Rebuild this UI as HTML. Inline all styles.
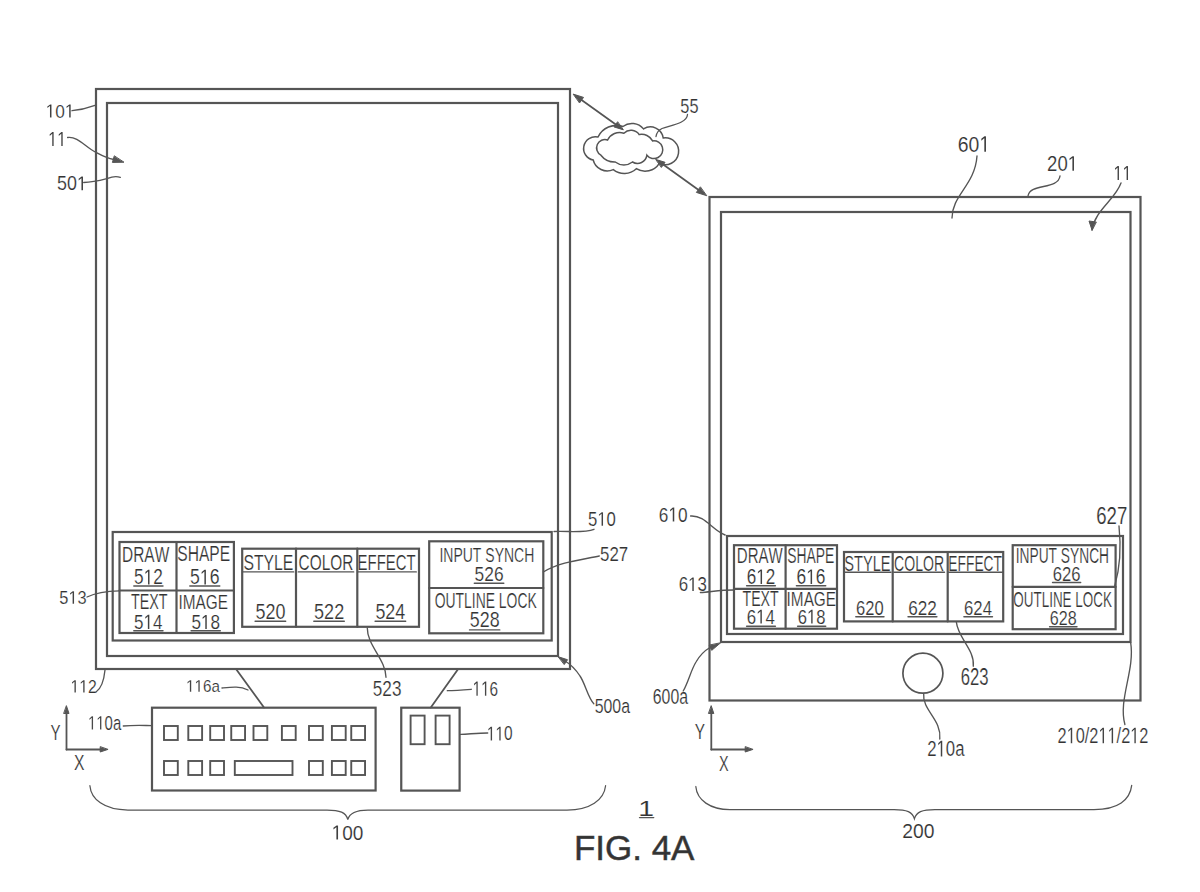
<!DOCTYPE html>
<html><head><meta charset="utf-8"><style>
html,body{margin:0;padding:0;background:#fff;width:1200px;height:892px;overflow:hidden}
svg{display:block}
text{font-family:"Liberation Sans",sans-serif;font-size:100px;fill:#333;font-kerning:none;font-feature-settings:"kern" 0}
.g1{fill:#333}
</style></head><body>
<svg width="1200" height="892" viewBox="0 0 1200 892">
<g fill="none" stroke="#555" stroke-linecap="round">
<text transform="matrix(0.15456 0 0 0.22529 122.03 561.50)" stroke-width="0.970" stroke="#fff">DRAW</text>
<text transform="matrix(0.15598 0 0 0.21892 177.29 561.29)" stroke-width="0.962" stroke="#fff">SHAPE</text>
<text transform="matrix(0.17236 0 0 0.21469 134.11 584.49)" stroke-width="0.870" stroke="#fff">5&#x2007;2</text>
<path transform="matrix(0.17236 0 0 0.21469 134.11 584.49)" d="M80.76 0.00 L80.76 -60.40 L65.23 -49.32 L65.23 -57.62 L81.49 -68.80 L89.60 -68.80 L89.60 0.00Z" class="g1" stroke-width="0.870" stroke="#fff"/>
<text transform="matrix(0.17671 0 0 0.21469 190.09 584.49)" stroke-width="0.849" stroke="#fff">5&#x2007;6</text>
<path transform="matrix(0.17671 0 0 0.21469 190.09 584.49)" d="M80.76 0.00 L80.76 -60.40 L65.23 -49.32 L65.23 -57.62 L81.49 -68.80 L89.60 -68.80 L89.60 0.00Z" class="g1" stroke-width="0.849" stroke="#fff"/>
<text transform="matrix(0.14341 0 0 0.21367 130.98 608.70)" stroke-width="1.046" stroke="#fff">TEXT</text>
<text transform="matrix(0.15353 0 0 0.20762 178.48 608.50)" stroke-width="0.977" stroke="#fff">IMAGE</text>
<text transform="matrix(0.17009 0 0 0.20638 134.12 629.00)" stroke-width="0.882" stroke="#fff">5&#x2007;4</text>
<path transform="matrix(0.17009 0 0 0.20638 134.12 629.00)" d="M80.76 0.00 L80.76 -60.40 L65.23 -49.32 L65.23 -57.62 L81.49 -68.80 L89.60 -68.80 L89.60 0.00Z" class="g1" stroke-width="0.882" stroke="#fff"/>
<text transform="matrix(0.17161 0 0 0.20339 191.41 629.00)" stroke-width="0.874" stroke="#fff">5&#x2007;8</text>
<path transform="matrix(0.17161 0 0 0.20339 191.41 629.00)" d="M80.76 0.00 L80.76 -60.40 L65.23 -49.32 L65.23 -57.62 L81.49 -68.80 L89.60 -68.80 L89.60 0.00Z" class="g1" stroke-width="0.874" stroke="#fff"/>
<text transform="matrix(0.15781 0 0 0.21469 243.38 569.79)" stroke-width="0.950" stroke="#fff">STYLE</text>
<text transform="matrix(0.15438 0 0 0.21469 298.52 569.79)" stroke-width="0.972" stroke="#fff">COLOR</text>
<text transform="matrix(0.14933 0 0 0.21469 357.58 569.79)" stroke-width="1.005" stroke="#fff">EFFECT</text>
<text transform="matrix(0.17995 0 0 0.22599 255.38 619.08)" stroke-width="0.834" stroke="#fff">520</text>
<text transform="matrix(0.18059 0 0 0.22599 314.08 619.08)" stroke-width="0.831" stroke="#fff">522</text>
<text transform="matrix(0.17885 0 0 0.22599 375.38 619.08)" stroke-width="0.839" stroke="#fff">524</text>
<text transform="matrix(0.14006 0 0 0.20339 439.41 561.70)" stroke-width="1.071" stroke="#fff">INPUT SYNCH</text>
<text transform="matrix(0.17356 0 0 0.20621 474.61 581.10)" stroke-width="0.864" stroke="#fff">526</text>
<text transform="matrix(0.13936 0 0 0.21469 434.64 607.79)" stroke-width="1.076" stroke="#fff">OUTLINE LOCK</text>
<text transform="matrix(0.17855 0 0 0.21892 469.79 627.29)" stroke-width="0.840" stroke="#fff">528</text>
<text transform="matrix(0.17257 0 0 0.19138 45.64 117.56)" stroke-width="0.869" stroke="#fff">&#x2007;0&#x2007;</text>
<path transform="matrix(0.17257 0 0 0.19138 45.64 117.56)" d="M25.15 0.00 L25.15 -60.40 L9.62 -49.32 L9.62 -57.62 L25.88 -68.80 L33.98 -68.80 L33.98 0.00Z" class="g1" stroke-width="0.869" stroke="#fff"/>
<path transform="matrix(0.17257 0 0 0.19138 45.64 117.56)" d="M136.38 0.00 L136.38 -60.40 L120.85 -49.32 L120.85 -57.62 L137.11 -68.80 L145.21 -68.80 L145.21 0.00Z" class="g1" stroke-width="0.869" stroke="#fff"/>
<text transform="matrix(0.16254 0 0 0.20495 48.14 146.10)" stroke-width="0.923" stroke="#fff">&#x2007;&#x2007;</text>
<path transform="matrix(0.16254 0 0 0.20495 48.14 146.10)" d="M25.15 0.00 L25.15 -60.40 L9.62 -49.32 L9.62 -57.62 L25.88 -68.80 L33.98 -68.80 L33.98 0.00Z" class="g1" stroke-width="0.923" stroke="#fff"/>
<path transform="matrix(0.16254 0 0 0.20495 48.14 146.10)" d="M80.76 0.00 L80.76 -60.40 L65.23 -49.32 L65.23 -57.62 L81.49 -68.80 L89.60 -68.80 L89.60 0.00Z" class="g1" stroke-width="0.923" stroke="#fff"/>
<text transform="matrix(0.17881 0 0 0.20056 57.03 190.30)" stroke-width="0.839" stroke="#fff">50&#x2007;</text>
<path transform="matrix(0.17881 0 0 0.20056 57.03 190.30)" d="M136.38 0.00 L136.38 -60.40 L120.85 -49.32 L120.85 -57.62 L137.11 -68.80 L145.21 -68.80 L145.21 0.00Z" class="g1" stroke-width="0.839" stroke="#fff"/>
<text transform="matrix(0.16409 0 0 0.18361 59.34 603.82)" stroke-width="0.914" stroke="#fff">5&#x2007;3</text>
<path transform="matrix(0.16409 0 0 0.18361 59.34 603.82)" d="M80.76 0.00 L80.76 -60.40 L65.23 -49.32 L65.23 -57.62 L81.49 -68.80 L89.60 -68.80 L89.60 0.00Z" class="g1" stroke-width="0.914" stroke="#fff"/>
<text transform="matrix(0.15769 0 0 0.17902 70.48 692.50)" stroke-width="0.951" stroke="#fff">&#x2007;&#x2007;2</text>
<path transform="matrix(0.15769 0 0 0.17902 70.48 692.50)" d="M25.15 0.00 L25.15 -60.40 L9.62 -49.32 L9.62 -57.62 L25.88 -68.80 L33.98 -68.80 L33.98 0.00Z" class="g1" stroke-width="0.951" stroke="#fff"/>
<path transform="matrix(0.15769 0 0 0.17902 70.48 692.50)" d="M80.76 0.00 L80.76 -60.40 L65.23 -49.32 L65.23 -57.62 L81.49 -68.80 L89.60 -68.80 L89.60 0.00Z" class="g1" stroke-width="0.951" stroke="#fff"/>
<text transform="matrix(0.15270 0 0 0.16949 186.03 691.83)" stroke-width="0.982" stroke="#fff">&#x2007;&#x2007;6a</text>
<path transform="matrix(0.15270 0 0 0.16949 186.03 691.83)" d="M25.15 0.00 L25.15 -60.40 L9.62 -49.32 L9.62 -57.62 L25.88 -68.80 L33.98 -68.80 L33.98 0.00Z" class="g1" stroke-width="0.982" stroke="#fff"/>
<path transform="matrix(0.15270 0 0 0.16949 186.03 691.83)" d="M80.76 0.00 L80.76 -60.40 L65.23 -49.32 L65.23 -57.62 L81.49 -68.80 L89.60 -68.80 L89.60 0.00Z" class="g1" stroke-width="0.982" stroke="#fff"/>
<text transform="matrix(0.16736 0 0 0.19774 588.03 525.81)" stroke-width="0.896" stroke="#fff">5&#x2007;0</text>
<path transform="matrix(0.16736 0 0 0.19774 588.03 525.81)" d="M80.76 0.00 L80.76 -60.40 L65.23 -49.32 L65.23 -57.62 L81.49 -68.80 L89.60 -68.80 L89.60 0.00Z" class="g1" stroke-width="0.896" stroke="#fff"/>
<text transform="matrix(0.16855 0 0 0.19915 600.03 560.61)" stroke-width="0.890" stroke="#fff">527</text>
<text transform="matrix(0.17167 0 0 0.21469 372.81 695.79)" stroke-width="0.874" stroke="#fff">523</text>
<text transform="matrix(0.15376 0 0 0.20762 472.52 695.80)" stroke-width="0.976" stroke="#fff">&#x2007;&#x2007;6</text>
<path transform="matrix(0.15376 0 0 0.20762 472.52 695.80)" d="M25.15 0.00 L25.15 -60.40 L9.62 -49.32 L9.62 -57.62 L25.88 -68.80 L33.98 -68.80 L33.98 0.00Z" class="g1" stroke-width="0.976" stroke="#fff"/>
<path transform="matrix(0.15376 0 0 0.20762 472.52 695.80)" d="M80.76 0.00 L80.76 -60.40 L65.23 -49.32 L65.23 -57.62 L81.49 -68.80 L89.60 -68.80 L89.60 0.00Z" class="g1" stroke-width="0.976" stroke="#fff"/>
<text transform="matrix(0.15884 0 0 0.20621 594.66 713.10)" stroke-width="0.944" stroke="#fff">500a</text>
<text transform="matrix(0.14964 0 0 0.19491 87.96 729.61)" stroke-width="1.002" stroke="#fff">&#x2007;&#x2007;0a</text>
<path transform="matrix(0.14964 0 0 0.19491 87.96 729.61)" d="M25.15 0.00 L25.15 -60.40 L9.62 -49.32 L9.62 -57.62 L25.88 -68.80 L33.98 -68.80 L33.98 0.00Z" class="g1" stroke-width="1.002" stroke="#fff"/>
<path transform="matrix(0.14964 0 0 0.19491 87.96 729.61)" d="M80.76 0.00 L80.76 -60.40 L65.23 -49.32 L65.23 -57.62 L81.49 -68.80 L89.60 -68.80 L89.60 0.00Z" class="g1" stroke-width="1.002" stroke="#fff"/>
<text transform="matrix(0.15458 0 0 0.19915 486.81 740.41)" stroke-width="0.970" stroke="#fff">&#x2007;&#x2007;0</text>
<path transform="matrix(0.15458 0 0 0.19915 486.81 740.41)" d="M25.15 0.00 L25.15 -60.40 L9.62 -49.32 L9.62 -57.62 L25.88 -68.80 L33.98 -68.80 L33.98 0.00Z" class="g1" stroke-width="0.970" stroke="#fff"/>
<path transform="matrix(0.15458 0 0 0.19915 486.81 740.41)" d="M80.76 0.00 L80.76 -60.40 L65.23 -49.32 L65.23 -57.62 L81.49 -68.80 L89.60 -68.80 L89.60 0.00Z" class="g1" stroke-width="0.970" stroke="#fff"/>
<text transform="matrix(0.15087 0 0 0.21803 50.47 739.60)" stroke-width="0.994" stroke="#fff">Y</text>
<text transform="matrix(0.15717 0 0 0.22093 74.05 770.40)" stroke-width="0.954" stroke="#fff">X</text>
<text transform="matrix(0.19045 0 0 0.20268 331.57 839.55)" stroke-width="0.788" stroke="#fff">&#x2007;00</text>
<path transform="matrix(0.19045 0 0 0.20268 331.57 839.55)" d="M25.15 0.00 L25.15 -60.40 L9.62 -49.32 L9.62 -57.62 L25.88 -68.80 L33.98 -68.80 L33.98 0.00Z" class="g1" stroke-width="0.788" stroke="#fff"/>
<text transform="matrix(0.16306 0 0 0.20351 680.35 113.00)" stroke-width="0.920" stroke="#fff">55</text>
<text transform="matrix(0.15052 0 0 0.22457 736.77 563.25)" stroke-width="0.997" stroke="#fff">DRAW</text>
<text transform="matrix(0.13871 0 0 0.21822 787.37 563.04)" stroke-width="1.081" stroke="#fff">SHAPE</text>
<text transform="matrix(0.17099 0 0 0.21186 746.73 583.99)" stroke-width="0.877" stroke="#fff">6&#x2007;2</text>
<path transform="matrix(0.17099 0 0 0.21186 746.73 583.99)" d="M80.76 0.00 L80.76 -60.40 L65.23 -49.32 L65.23 -57.62 L81.49 -68.80 L89.60 -68.80 L89.60 0.00Z" class="g1" stroke-width="0.877" stroke="#fff"/>
<text transform="matrix(0.17379 0 0 0.21186 796.52 583.99)" stroke-width="0.863" stroke="#fff">6&#x2007;6</text>
<path transform="matrix(0.17379 0 0 0.21186 796.52 583.99)" d="M80.76 0.00 L80.76 -60.40 L65.23 -49.32 L65.23 -57.62 L81.49 -68.80 L89.60 -68.80 L89.60 0.00Z" class="g1" stroke-width="0.863" stroke="#fff"/>
<text transform="matrix(0.14182 0 0 0.21367 742.48 606.00)" stroke-width="1.058" stroke="#fff">TEXT</text>
<text transform="matrix(0.15353 0 0 0.20762 786.58 605.80)" stroke-width="0.977" stroke="#fff">IMAGE</text>
<text transform="matrix(0.16873 0 0 0.20056 746.74 623.60)" stroke-width="0.889" stroke="#fff">6&#x2007;4</text>
<path transform="matrix(0.16873 0 0 0.20056 746.74 623.60)" d="M80.76 0.00 L80.76 -60.40 L65.23 -49.32 L65.23 -57.62 L81.49 -68.80 L89.60 -68.80 L89.60 0.00Z" class="g1" stroke-width="0.889" stroke="#fff"/>
<text transform="matrix(0.16611 0 0 0.20056 797.76 623.60)" stroke-width="0.903" stroke="#fff">6&#x2007;8</text>
<path transform="matrix(0.16611 0 0 0.20056 797.76 623.60)" d="M80.76 0.00 L80.76 -60.40 L65.23 -49.32 L65.23 -57.62 L81.49 -68.80 L89.60 -68.80 L89.60 0.00Z" class="g1" stroke-width="0.903" stroke="#fff"/>
<text transform="matrix(0.14612 0 0 0.22457 844.34 570.68)" stroke-width="1.027" stroke="#fff">STYLE</text>
<text transform="matrix(0.14079 0 0 0.22457 894.09 570.68)" stroke-width="1.065" stroke="#fff">COLOR</text>
<text transform="matrix(0.13796 0 0 0.22457 948.37 570.68)" stroke-width="1.087" stroke="#fff">EFFECT</text>
<text transform="matrix(0.16597 0 0 0.20056 855.96 614.80)" stroke-width="0.904" stroke="#fff">620</text>
<text transform="matrix(0.17162 0 0 0.20056 908.13 614.80)" stroke-width="0.874" stroke="#fff">622</text>
<text transform="matrix(0.16747 0 0 0.20056 964.05 614.80)" stroke-width="0.896" stroke="#fff">624</text>
<text transform="matrix(0.13779 0 0 0.22034 1015.73 563.38)" stroke-width="1.089" stroke="#fff">INPUT SYNCH</text>
<text transform="matrix(0.16648 0 0 0.20480 1052.65 580.80)" stroke-width="0.901" stroke="#fff">626</text>
<text transform="matrix(0.13441 0 0 0.21892 1013.36 607.09)" stroke-width="1.116" stroke="#fff">OUTLINE LOCK</text>
<text transform="matrix(0.16135 0 0 0.20621 1049.78 625.20)" stroke-width="0.930" stroke="#fff">628</text>
<text transform="matrix(0.19410 0 0 0.22599 957.81 151.78)" stroke-width="0.773" stroke="#fff">60&#x2007;</text>
<path transform="matrix(0.19410 0 0 0.22599 957.81 151.78)" d="M136.38 0.00 L136.38 -60.40 L120.85 -49.32 L120.85 -57.62 L137.11 -68.80 L145.21 -68.80 L145.21 0.00Z" class="g1" stroke-width="0.773" stroke="#fff"/>
<text transform="matrix(0.18547 0 0 0.21186 1047.07 170.79)" stroke-width="0.809" stroke="#fff">20&#x2007;</text>
<path transform="matrix(0.18547 0 0 0.21186 1047.07 170.79)" d="M136.38 0.00 L136.38 -60.40 L120.85 -49.32 L120.85 -57.62 L137.11 -68.80 L145.21 -68.80 L145.21 0.00Z" class="g1" stroke-width="0.809" stroke="#fff"/>
<text transform="matrix(0.16254 0 0 0.20349 1113.44 180.00)" stroke-width="0.923" stroke="#fff">&#x2007;&#x2007;</text>
<path transform="matrix(0.16254 0 0 0.20349 1113.44 180.00)" d="M25.15 0.00 L25.15 -60.40 L9.62 -49.32 L9.62 -57.62 L25.88 -68.80 L33.98 -68.80 L33.98 0.00Z" class="g1" stroke-width="0.923" stroke="#fff"/>
<path transform="matrix(0.16254 0 0 0.20349 1113.44 180.00)" d="M80.76 0.00 L80.76 -60.40 L65.23 -49.32 L65.23 -57.62 L81.49 -68.80 L89.60 -68.80 L89.60 0.00Z" class="g1" stroke-width="0.923" stroke="#fff"/>
<text transform="matrix(0.17230 0 0 0.20198 658.83 521.50)" stroke-width="0.871" stroke="#fff">6&#x2007;0</text>
<path transform="matrix(0.17230 0 0 0.20198 658.83 521.50)" d="M80.76 0.00 L80.76 -60.40 L65.23 -49.32 L65.23 -57.62 L81.49 -68.80 L89.60 -68.80 L89.60 0.00Z" class="g1" stroke-width="0.871" stroke="#fff"/>
<text transform="matrix(0.16903 0 0 0.19915 678.64 591.11)" stroke-width="0.887" stroke="#fff">6&#x2007;3</text>
<path transform="matrix(0.16903 0 0 0.19915 678.64 591.11)" d="M80.76 0.00 L80.76 -60.40 L65.23 -49.32 L65.23 -57.62 L81.49 -68.80 L89.60 -68.80 L89.60 0.00Z" class="g1" stroke-width="0.887" stroke="#fff"/>
<text transform="matrix(0.15871 0 0 0.22599 652.79 704.48)" stroke-width="0.945" stroke="#fff">600a</text>
<text transform="matrix(0.18630 0 0 0.23446 1096.25 523.67)" stroke-width="0.805" stroke="#fff">627</text>
<text transform="matrix(0.16712 0 0 0.23446 960.75 684.87)" stroke-width="0.898" stroke="#fff">623</text>
<text transform="matrix(0.16741 0 0 0.22740 927.26 756.38)" stroke-width="0.896" stroke="#fff">2&#x2007;0a</text>
<path transform="matrix(0.16741 0 0 0.22740 927.26 756.38)" d="M80.76 0.00 L80.76 -60.40 L65.23 -49.32 L65.23 -57.62 L81.49 -68.80 L89.60 -68.80 L89.60 0.00Z" class="g1" stroke-width="0.896" stroke="#fff"/>
<text transform="matrix(0.16336 0 0 0.22604 1057.58 743.18)" stroke-width="0.918" stroke="#fff">2&#x2007;0/2&#x2007;&#x2007;/2&#x2007;2</text>
<path transform="matrix(0.16336 0 0 0.22604 1057.58 743.18)" d="M80.76 0.00 L80.76 -60.40 L65.23 -49.32 L65.23 -57.62 L81.49 -68.80 L89.60 -68.80 L89.60 0.00Z" class="g1" stroke-width="0.918" stroke="#fff"/>
<path transform="matrix(0.16336 0 0 0.22604 1057.58 743.18)" d="M275.39 0.00 L275.39 -60.40 L259.86 -49.32 L259.86 -57.62 L276.12 -68.80 L284.23 -68.80 L284.23 0.00Z" class="g1" stroke-width="0.918" stroke="#fff"/>
<path transform="matrix(0.16336 0 0 0.22604 1057.58 743.18)" d="M331.01 0.00 L331.01 -60.40 L315.48 -49.32 L315.48 -57.62 L331.74 -68.80 L339.84 -68.80 L339.84 0.00Z" class="g1" stroke-width="0.918" stroke="#fff"/>
<path transform="matrix(0.16336 0 0 0.22604 1057.58 743.18)" d="M470.02 0.00 L470.02 -60.40 L454.49 -49.32 L454.49 -57.62 L470.75 -68.80 L478.86 -68.80 L478.86 0.00Z" class="g1" stroke-width="0.918" stroke="#fff"/>
<text transform="matrix(0.15408 0 0 0.21948 694.76 739.40)" stroke-width="0.974" stroke="#fff">Y</text>
<text transform="matrix(0.14434 0 0 0.22675 719.08 770.70)" stroke-width="1.039" stroke="#fff">X</text>
<text transform="matrix(0.19315 0 0 0.19350 902.33 838.11)" stroke-width="0.777" stroke="#fff">200</text>
<text transform="matrix(0.28412 0 0 0.22166 638.34 815.75)" stroke-width="0.528" stroke="#fff">1</text>
<text transform="matrix(0.34986 0 0 0.35169 573.93 859.96)" stroke-width="1.43" stroke="#444">FIG. 4A</text>
<rect x="96" y="89" width="474" height="580" stroke-width="2.2"/>
<rect x="107" y="103" width="451" height="553" stroke-width="2.2"/>
<rect x="112.7" y="532" width="439.0" height="108.5" stroke-width="2.2"/>
<rect x="119.5" y="542" width="114.4" height="91" stroke-width="2.2"/>
<line x1="176.5" y1="542" x2="176.5" y2="633" stroke-width="2.2"/>
<line x1="119.5" y1="590.5" x2="233.9" y2="590.5" stroke-width="2.2"/>
<rect x="242.2" y="548.7" width="176.8" height="78.1" stroke-width="2.2"/>
<line x1="296" y1="548.7" x2="296" y2="626.8" stroke-width="2.2"/>
<line x1="357.3" y1="548.7" x2="357.3" y2="626.8" stroke-width="2.2"/>
<rect x="429.2" y="541.3" width="114.1" height="92.0" stroke-width="2.2"/>
<line x1="429.2" y1="588" x2="543.3" y2="588" stroke-width="2.2"/>
<line x1="133.8" y1="586" x2="163" y2="586" stroke-width="1.4"/>
<line x1="189.8" y1="586" x2="219.8" y2="586" stroke-width="1.4"/>
<line x1="133.8" y1="630.8" x2="163" y2="630.8" stroke-width="1.4"/>
<line x1="191.1" y1="630.8" x2="220.3" y2="630.8" stroke-width="1.4"/>
<line x1="243.1" y1="571.9" x2="293.7" y2="571.9" stroke-width="1.4"/>
<line x1="298.3" y1="571.9" x2="353.7" y2="571.9" stroke-width="1.4"/>
<line x1="357.8" y1="571.9" x2="416.3" y2="571.9" stroke-width="1.4"/>
<line x1="255.10000000000002" y1="621.2" x2="285.7" y2="621.2" stroke-width="1.4"/>
<line x1="313.8" y1="621.2" x2="344.3" y2="621.2" stroke-width="1.4"/>
<line x1="375.1" y1="621.2" x2="405.7" y2="621.2" stroke-width="1.4"/>
<line x1="474.3" y1="583.2" x2="503.8" y2="583.2" stroke-width="1.4"/>
<line x1="469.5" y1="629.9" x2="499.8" y2="629.9" stroke-width="1.4"/>
<path d="M72 110.7 C80 110 88 108 95 105.4" stroke-width="1.35" fill="none"/>
<path d="M67.6 137.5 C78 136 86 148 96 152.3 C101 155 106 157.9 114 159.5" stroke-width="1.35" fill="none"/>
<path d="M123.60 162.20 L112.42 162.43 L114.18 156.17 Z" stroke-width="1.0" fill="#555"/>
<path d="M83.7 182.5 C92 182.5 100 180.5 106.8 178.7 C110 177.5 114 175.5 120.3 177.3" stroke-width="1.35" fill="none"/>
<path d="M87 597 C95 593 105 591 119.5 590.8" stroke-width="1.35" fill="none"/>
<path d="M96 692 C102 688 104 680 105 670" stroke-width="1.35" fill="none"/>
<path d="M222 688 C232 687 240 686 248 690" stroke-width="1.35" fill="none"/>
<line x1="236" y1="669" x2="264" y2="707.5" stroke-width="1.8"/>
<path d="M594 529.3 C585 533 570 531 554 531.5" stroke-width="1.35" fill="none"/>
<path d="M599.3 556 C580 560 560 562 543.3 572" stroke-width="1.35" fill="none"/>
<path d="M386 677.3 C386 660 367 645 367.3 628" stroke-width="1.35" fill="none"/>
<path d="M471.3 689.3 C462 690 455 690.5 447.3 690.7" stroke-width="1.35" fill="none"/>
<line x1="458" y1="669.3" x2="430.8" y2="707.5" stroke-width="1.8"/>
<path d="M593.8 703.7 C588 698 585 683 580 676 C576 670 572 665 565 661" stroke-width="1.35" fill="none"/>
<path d="M558.40 656.80 L567.55 659.73 L564.45 664.27 Z" stroke-width="1.0" fill="#555"/>
<path d="M123.3 726 C135 725 145 725.6 151.9 725.6" stroke-width="1.35" fill="none"/>
<path d="M460.6 734.4 C470 734 478 733 487.7 733" stroke-width="1.35" fill="none"/>
<rect x="152" y="707.7" width="223.6" height="82.8" stroke-width="2.2"/>
<rect x="164" y="726" width="13.8" height="14" stroke-width="1.9"/>
<rect x="188.3" y="726" width="13.8" height="14" stroke-width="1.9"/>
<rect x="210.2" y="726" width="13.8" height="14" stroke-width="1.9"/>
<rect x="231.25" y="726" width="13.8" height="14" stroke-width="1.9"/>
<rect x="253.5" y="726" width="13.8" height="14" stroke-width="1.9"/>
<rect x="281.9" y="726" width="13.8" height="14" stroke-width="1.9"/>
<rect x="309" y="726" width="13.8" height="14" stroke-width="1.9"/>
<rect x="331.9" y="726" width="13.8" height="14" stroke-width="1.9"/>
<rect x="351.25" y="726" width="13.8" height="14" stroke-width="1.9"/>
<rect x="164" y="761" width="13.8" height="14" stroke-width="1.9"/>
<rect x="188.3" y="761" width="13.8" height="14" stroke-width="1.9"/>
<rect x="210.2" y="761" width="13.8" height="14" stroke-width="1.9"/>
<rect x="309" y="761" width="13.8" height="14" stroke-width="1.9"/>
<rect x="331.9" y="761" width="13.8" height="14" stroke-width="1.9"/>
<rect x="351.25" y="761" width="13.8" height="14" stroke-width="1.9"/>
<rect x="234.8" y="761" width="57.7" height="14" stroke-width="1.9"/>
<rect x="401.25" y="707.7" width="58.35" height="82.9" stroke-width="2.2"/>
<rect x="410.6" y="715.6" width="14.0" height="28.6" stroke-width="1.9"/>
<rect x="435.6" y="715.6" width="14.0" height="28.6" stroke-width="1.9"/>
<line x1="66.5" y1="712" x2="66.5" y2="749.5" stroke-width="1.8"/>
<line x1="66.5" y1="749.5" x2="102" y2="749.5" stroke-width="1.8"/>
<path d="M66.50 706.00 L69.00 713.50 L64.00 713.50 Z" stroke-width="1.0" fill="#555"/>
<path d="M107.70 749.50 L100.20 752.00 L100.20 747.00 Z" stroke-width="1.0" fill="#555"/>
<path d="M89.9 785.7 C91 799 104 810 128 810 L327 810 C340 810 346 812.5 347.8 819.5 C349.6 812.5 356 810 368 810 L567 810 C590 810 604 800 605.6 785.7" stroke-width="1.25"/>
<path d="M593.2 160 A11.75 11.75 0 1 1 598 137 A20.35 20.35 0 0 1 622.9 126.5 A14.83 14.83 0 0 1 643.5 128.9 A12.89 12.89 0 0 1 663.2 138 A13.45 13.45 0 1 1 659.3 163.4 A16.71 16.71 0 0 1 636.3 168.7 A17.42 17.42 0 0 1 613.3 169.6 A14.46 14.46 0 0 1 593.2 160 Z" stroke-width="1.5" fill="none"/>
<path d="M600.9 155.2 A8.34 8.34 0 0 1 607.6 140 A13.32 13.32 0 0 1 623.9 133.2 A10.03 10.03 0 0 1 639.2 134.6 A12.41 12.41 0 0 1 652.6 140.9 A8.89 8.89 0 1 1 646.9 155.2 A9.50 9.50 0 0 1 632.5 162 A14.22 14.22 0 0 1 615.2 162 A17.43 17.43 0 0 1 600.9 155.2 Z" stroke-width="1.5" fill="none"/>
<path d="M687.5 114.5 C687 123 672 125 662 128.5 C658 130.5 656.5 133 656 136.5" stroke-width="1.3" fill="none"/>
<line x1="576" y1="96" x2="620" y2="127.5" stroke-width="1.7"/>
<line x1="659" y1="161.5" x2="703.5" y2="193.5" stroke-width="1.7"/>
<path d="M573.50 94.20 L583.52 97.39 L579.73 102.67 Z" stroke-width="1.0" fill="#555"/>
<path d="M623.00 129.70 L613.94 126.89 L617.43 122.02 Z" stroke-width="1.0" fill="#555"/>
<path d="M656.00 159.50 L665.06 162.30 L661.57 167.18 Z" stroke-width="1.0" fill="#555"/>
<path d="M706.40 195.60 L696.38 192.42 L700.16 187.13 Z" stroke-width="1.0" fill="#555"/>
<rect x="709.5" y="197" width="431.0" height="503.5" stroke-width="2.2"/>
<rect x="721" y="212" width="409.5" height="430" stroke-width="2.2"/>
<rect x="727" y="536" width="396" height="98" stroke-width="2.2"/>
<rect x="734" y="545.2" width="103" height="83.5" stroke-width="2.2"/>
<line x1="785.6" y1="545.2" x2="785.6" y2="628.7" stroke-width="2.2"/>
<line x1="734" y1="588.9" x2="837" y2="588.9" stroke-width="2.2"/>
<rect x="844" y="552" width="159.2" height="69.4" stroke-width="2.2"/>
<line x1="892.7" y1="552" x2="892.7" y2="621.4" stroke-width="2.2"/>
<line x1="947.7" y1="552" x2="947.7" y2="621.4" stroke-width="2.2"/>
<rect x="1012.7" y="545.2" width="102.9" height="84.0" stroke-width="2.2"/>
<line x1="1012.7" y1="586.9" x2="1115.6" y2="586.9" stroke-width="2.2"/>
<circle cx="922.9" cy="673.2" r="20" stroke-width="1.7"/>
<line x1="746.6" y1="585.8" x2="775.4" y2="585.8" stroke-width="1.4"/>
<line x1="796.4" y1="585.8" x2="825.75" y2="585.8" stroke-width="1.4"/>
<line x1="746.6" y1="626.2" x2="775.4" y2="626.2" stroke-width="1.4"/>
<line x1="797.6" y1="626.2" x2="825.75" y2="626.2" stroke-width="1.4"/>
<line x1="844" y1="572.3" x2="891" y2="572.3" stroke-width="1.4"/>
<line x1="893.8" y1="572.3" x2="944.5" y2="572.3" stroke-width="1.4"/>
<line x1="948.5" y1="572.3" x2="1002.7" y2="572.3" stroke-width="1.4"/>
<line x1="855.8" y1="616.7" x2="884" y2="616.7" stroke-width="1.4"/>
<line x1="908" y1="616.7" x2="936.9" y2="616.7" stroke-width="1.4"/>
<line x1="963.9" y1="616.7" x2="992.5" y2="616.7" stroke-width="1.4"/>
<line x1="1052.5" y1="582.5" x2="1080.7" y2="582.5" stroke-width="1.4"/>
<line x1="1049.6" y1="626.8" x2="1077" y2="626.8" stroke-width="1.4"/>
<line x1="639.5" y1="817.6" x2="653.75" y2="817.6" stroke-width="1.4"/>
<path d="M977 156 C975 185 952 195 952 218" stroke-width="1.35" fill="none"/>
<path d="M1060 176 C1058 190 1030 183 1028 196" stroke-width="1.35" fill="none"/>
<path d="M1121 183 C1115 200 1095 210 1092 230" stroke-width="1.35" fill="none"/>
<path d="M1092 230 L1089 221 L1096 222 Z" stroke-width="1" fill="#555"/>
<path d="M690.6 516 C705 515 712 530 725.1 535" stroke-width="1.35" fill="none"/>
<path d="M700.4 592.5 C710 592 720 590 733.7 590" stroke-width="1.35" fill="none"/>
<path d="M683.2 691 C688 683 691 670 696 662 C700 655 704 651 710 647.5" stroke-width="1.35" fill="none"/>
<path d="M720.40 643.00 L711.72 650.36 L709.28 645.44 Z" stroke-width="1.0" fill="#555"/>
<path d="M1119 526 C1121 545 1120 568 1114.7 586" stroke-width="1.35" fill="none"/>
<path d="M973.3 666.2 C975 650 958 638 956.4 622.4" stroke-width="1.35" fill="none"/>
<path d="M939.8 739 C942 720 922 710 923.7 693.9" stroke-width="1.35" fill="none"/>
<path d="M1124.9 724.5 C1118 700 1135 670 1130.7 642.9" stroke-width="1.35" fill="none"/>
<line x1="711.3" y1="712" x2="711.3" y2="749.5" stroke-width="1.8"/>
<line x1="711.3" y1="749.5" x2="747" y2="749.5" stroke-width="1.8"/>
<path d="M711.30 706.00 L713.80 713.50 L708.80 713.50 Z" stroke-width="1.0" fill="#555"/>
<path d="M752.70 749.50 L745.20 752.00 L745.20 747.00 Z" stroke-width="1.0" fill="#555"/>
<path d="M695.8 786.5 C697 800 710 809.6 730 809.6 L894 809.6 C907 809.6 912.5 812 914.4 818.8 C916.3 812 922 809.6 935 809.6 L1094 809.6 C1118 809.6 1130 800 1131.7 785.4" stroke-width="1.25"/>
</g>
</svg>
</body></html>
